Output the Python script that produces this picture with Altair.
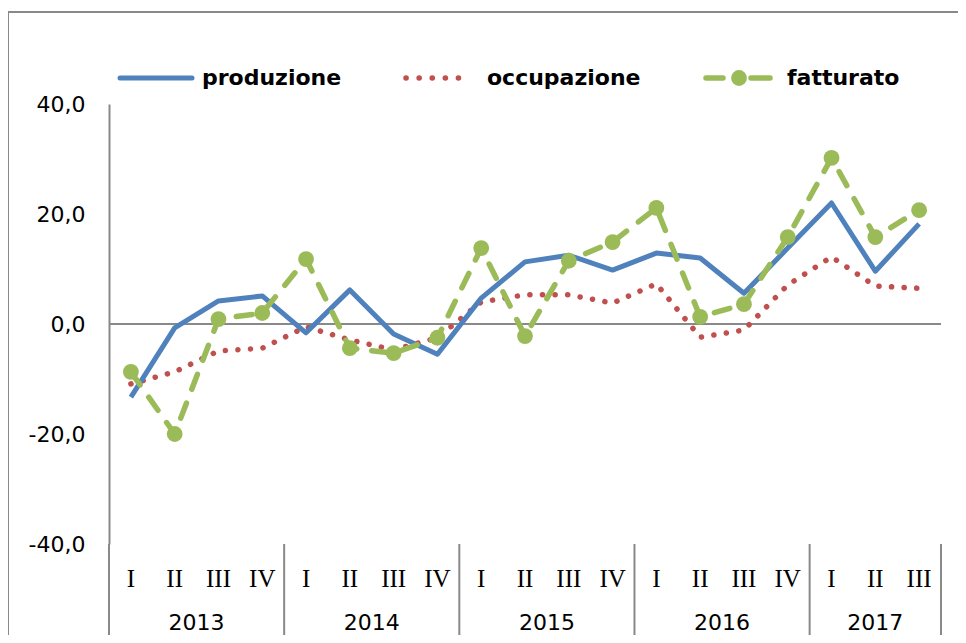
import altair as alt
import pandas as pd

quarters = ["I", "II", "III", "IV"] * 4 + ["I", "II", "III"]
years = ["2013", "2014", "2015", "2016", "2017"]
year_of_point = [y for y in years[:4] for _ in range(4)] + ["2017"] * 3

produzione = [-13.3, -0.7, 4.2, 5.1, -1.6, 6.2, -1.8, -5.5, 4.7, 11.3, 12.5, 9.8,
              12.9, 12.0, 5.6, 13.8, 22.0, 9.6, 18.2]
occupazione = [-10.9, -8.7, -4.9, -4.4, -0.5, -2.9, -4.7, -2.5, 4.0, 5.3, 5.3, 3.8,
               7.3, -2.4, -1.1, 7.1, 12.2, 6.9, 6.5]
fatturato = [-8.7, -20.0, 0.9, 2.0, 11.8, -4.4, -5.3, -2.5, 13.8, -2.2, 11.5, 14.9,
             21.1, 1.3, 3.6, 15.8, 30.2, 15.8, 20.7]

series_names = ["produzione", "occupazione", "fatturato"]
colors = ["#4F81BD", "#C0504D", "#9BBB59"]

n = len(quarters)
idx = list(range(n))
df = pd.DataFrame({
    "idx": idx,
    "quarter": quarters,
    "year": year_of_point,
    "produzione": produzione,
    "occupazione": occupazione,
    "fatturato": fatturato,
})

year_df = pd.DataFrame({"year": years, "center": [1.5, 5.5, 9.5, 13.5, 17.0]})
sep_df = pd.DataFrame({"pos": [-0.5, 3.5, 7.5, 11.5, 15.5, 18.5]})
one = pd.DataFrame({"a": [0]})

GRAY = "#898989"
xscale = alt.Scale(domain=[-0.5, n - 0.5], nice=False, zero=False)
yscale = alt.Scale(domain=[-40, 40], nice=False)

X = alt.X("idx:Q", scale=xscale, axis=None)

base = alt.Chart(df)

# y axis (only domain + labels)
yaxis_layer = alt.Chart(one).mark_point(opacity=0).encode(
    y=alt.Y("a:Q", scale=yscale,
            axis=alt.Axis(values=[-40, -20, 0, 20, 40], title=None, grid=False, ticks=False,
                          labelExpr="datum.value + ',0'",
                          labelFont="DejaVu Sans", labelFontSize=22, labelColor="#000000",
                          labelPadding=24, domainColor=GRAY, domainWidth=2)),
    x=alt.value(0),
)

zero_rule = alt.Chart(one).mark_rule(color=GRAY, strokeWidth=2).encode(
    y=alt.Y("z:Q", scale=yscale),
    x=alt.value(0), x2=alt.value(832),
).transform_calculate(z="0")

line_prod = base.mark_line(color=colors[0], strokeWidth=5, strokeJoin="round").encode(
    x=X, y=alt.Y("produzione:Q", scale=yscale))
line_occ = base.mark_line(color=colors[1], strokeWidth=5.5, strokeCap="round",
                          strokeDash=[0.1, 12.5]).encode(
    x=X, y=alt.Y("occupazione:Q", scale=yscale))
line_fat = base.mark_line(color=colors[2], strokeWidth=5.5, strokeCap="round",
                          strokeDash=[16, 15]).encode(
    x=X, y=alt.Y("fatturato:Q", scale=yscale))
pts_fat = base.mark_point(color=colors[2], filled=True, opacity=1, size=250).encode(
    x=X, y=alt.Y("fatturato:Q", scale=yscale))

# category labels
q_text = base.mark_text(font="Liberation Serif", fontSize=25, color="#000000",
                        baseline="middle").encode(
    x=X, y=alt.value(475), text="quarter:N")
y_text = alt.Chart(year_df).mark_text(font="DejaVu Sans", fontSize=22, color="#000000",
                                      baseline="middle").encode(
    x=alt.X("center:Q", scale=xscale, axis=None), y=alt.value(519), text="year:N")
seps = alt.Chart(sep_df).mark_rule(color=GRAY, strokeWidth=2).encode(
    x=alt.X("pos:Q", scale=xscale, axis=None), y=alt.value(440), y2=alt.value(533))

# outer frame (top and left)
frame_top = alt.Chart(one).mark_rule(color=GRAY, strokeWidth=2).encode(
    x=alt.value(-101), x2=alt.value(860), y=alt.value(-92))
frame_left = alt.Chart(one).mark_rule(color=GRAY, strokeWidth=2).encode(
    x=alt.value(-101), y=alt.value(-92), y2=alt.value(545))

# legend
LY = -26
leg_prod = alt.Chart(one).mark_rule(color=colors[0], strokeWidth=5, strokeCap="round").encode(
    x=alt.value(11), x2=alt.value(83), y=alt.value(LY))
leg_occ = alt.Chart(one).mark_rule(color=colors[1], strokeWidth=5.5, strokeCap="round",
                                   strokeDash=[0.1, 13]).encode(
    x=alt.value(297), x2=alt.value(362), y=alt.value(LY))
leg_fat1 = alt.Chart(one).mark_rule(color=colors[2], strokeWidth=5.5, strokeCap="round").encode(
    x=alt.value(597), x2=alt.value(614), y=alt.value(LY))
leg_fat2 = alt.Chart(one).mark_rule(color=colors[2], strokeWidth=5.5, strokeCap="round").encode(
    x=alt.value(642), x2=alt.value(661), y=alt.value(LY))
leg_fat_pt = alt.Chart(one).mark_point(color=colors[2], filled=True, opacity=1, size=250).encode(
    x=alt.value(630), y=alt.value(LY))

leg_x = [93, 378, 678]
leg_texts = [
    alt.Chart(one).mark_text(text=name, font="DejaVu Sans", fontSize=22, fontWeight="bold",
                             align="left", baseline="middle", color="#000000").encode(
        x=alt.value(px), y=alt.value(LY))
    for name, px in zip(series_names, leg_x)
]

chart = alt.layer(
    frame_top, frame_left, yaxis_layer, zero_rule, seps, q_text, y_text,
    line_occ, line_prod, line_fat, pts_fat,
    leg_prod, leg_occ, leg_fat1, leg_fat2, leg_fat_pt, *leg_texts,
).properties(
    width=832, height=440,
    autosize=alt.AutoSizeParams(type="none"),
    padding={"left": 101, "top": 96, "right": 17, "bottom": 91},
    background="#ffffff",
).configure_view(stroke=None)

chart.save("out.html", embed_options={"renderer": "svg", "actions": False})
